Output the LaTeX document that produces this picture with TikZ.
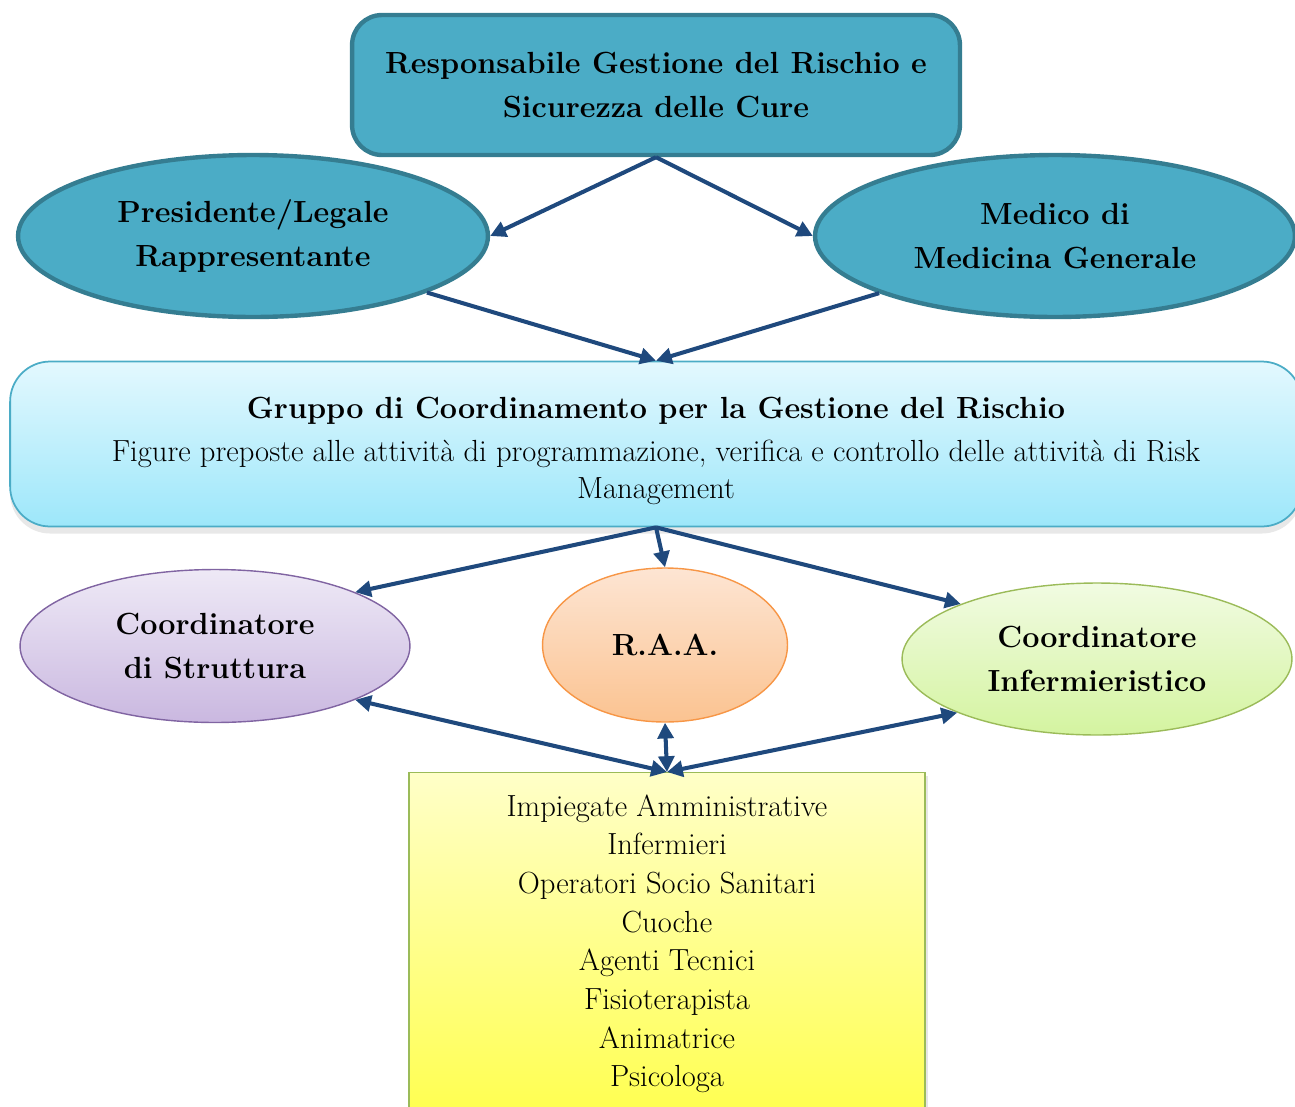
\documentclass[tikz,border=0pt]{standalone}
\usetikzlibrary{shapes.geometric,arrows.meta,shadows}

\definecolor{tealfill}{HTML}{4BACC6}
\definecolor{tealline}{HTML}{357D91}
\definecolor{arrowblue}{HTML}{1F497D}
\definecolor{cyantop}{HTML}{E3F8FE}
\definecolor{cyanbot}{HTML}{9DE7FA}
\definecolor{lilatop}{HTML}{EEE9F6}
\definecolor{lilabot}{HTML}{CAB8E0}
\definecolor{lilaline}{HTML}{8064A2}
\definecolor{orangetop}{HTML}{FDE5D3}
\definecolor{orangebot}{HTML}{FBC391}
\definecolor{orangeline}{HTML}{F79646}
\definecolor{greentop}{HTML}{F1FBE2}
\definecolor{greenbot}{HTML}{D4F4A0}
\definecolor{greenline}{HTML}{9BBB59}
\definecolor{yellowtop}{HTML}{FFFFC8}
\definecolor{yellowbot}{HTML}{FFFF50}

\tikzset{
  bigtext/.style = {font = \fontsize{17.4}{25.5}\selectfont\bfseries, align = center},
  smalltext/.style = {font = \fontsize{17.4}{22}\selectfont, align = center},
  tealnode/.style = {bigtext, fill = tealfill, draw = tealline, line width = 2.5pt},
  linkarrow/.style = {arrowblue, line width = 2.3pt, -{Triangle[length = 9pt, width = 9pt]}},
  bothways/.style = {linkarrow, {Triangle[length = 9pt, width = 9pt]}-{Triangle[length = 9pt, width = 9pt]}}
}

\begin{document}
\begin{tikzpicture}[x = 0.02cm, y = -0.02cm]

      \useasboundingbox (0, 0) rectangle (1295, 1106);

      % top level
      \node[tealnode, rectangle, rounded corners = 0.6cm, minimum width = 12.16cm, minimum height = 2.8cm] (resp) at (656, 85)
        {Responsabile Gestione del Rischio e\\Sicurezza delle Cure};
      \node[tealnode, ellipse, minimum width = 9.4cm, minimum height = 3.24cm] (pres) at (253, 236)
        {Presidente/Legale\\Rappresentante};
      \node[tealnode, ellipse, minimum width = 9.6cm, minimum height = 3.24cm] (medico) at (1055, 236)
        {Medico di\\Medicina Generale};

      % coordination group
      \node[rectangle, rounded corners = 0.8cm, top color = cyantop, bottom color = cyanbot, draw = tealfill, line width = 1pt,
            drop shadow = {opacity = 0.18, shadow xshift = 0pt, shadow yshift = -4pt},
            minimum width = 25.84cm, minimum height = 3.3cm, smalltext] (grp) at (656, 444)
        {\rule{0pt}{20pt}{\fontsize{17.4}{25.5}\selectfont\bfseries Gruppo di Coordinamento per la Gestione del Rischio}\\[3pt]
         Figure preposte alle attività di programmazione, verifica e controllo delle attività di Risk\\[-1pt]Management};

      % second row
      \node[bigtext, ellipse, top color = lilatop, bottom color = lilabot, draw = lilaline, line width = 0.8pt,
            minimum width = 7.8cm, minimum height = 3.06cm] (strutt) at (215, 646)
        {Coordinatore\\di Struttura};
      \node[bigtext, ellipse, top color = orangetop, bottom color = orangebot, draw = orangeline, line width = 0.8pt,
            minimum width = 4.9cm, minimum height = 3.08cm] (raa) at (665, 645)
        {R.A.A.};
      \node[bigtext, ellipse, top color = greentop, bottom color = greenbot, draw = greenline, line width = 0.8pt,
            minimum width = 7.8cm, minimum height = 3.04cm] (inferm) at (1097, 659)
        {Coordinatore\\Infermieristico};

      % staff
      \node[smalltext, rectangle, top color = yellowtop, bottom color = yellowbot, draw = greenline, line width = 0.8pt,
            drop shadow = {opacity = 0.2, shadow xshift = 2pt, shadow yshift = -2pt},
            minimum width = 10.32cm, minimum height = 6.84cm, anchor = north] (staff) at (667, 772)
        {Impiegate Amministrative\\Infermieri\\Operatori Socio Sanitari\\Cuoche\\Agenti Tecnici\\Fisioterapista\\Animatrice\\Psicologa};

      \draw[linkarrow] (resp.south) -- (pres.east);
      \draw[linkarrow] (resp.south) -- (medico.west);
      \draw[linkarrow] (pres.-18.8) -- (grp.north);
      \draw[linkarrow] (medico.198.8) -- (grp.north);

      \draw[linkarrow] (grp.south) -- (strutt.21);
      \draw[linkarrow] (grp.south) -- (raa.north);
      \draw[linkarrow] (grp.south) -- (inferm.158.4);

      \draw[bothways] (strutt.-21) -- (staff.north);
      \draw[bothways] (raa.south) -- (staff.north);
      \draw[bothways] (inferm.201.6) -- (staff.north);

    \end{tikzpicture}
\end{document}
